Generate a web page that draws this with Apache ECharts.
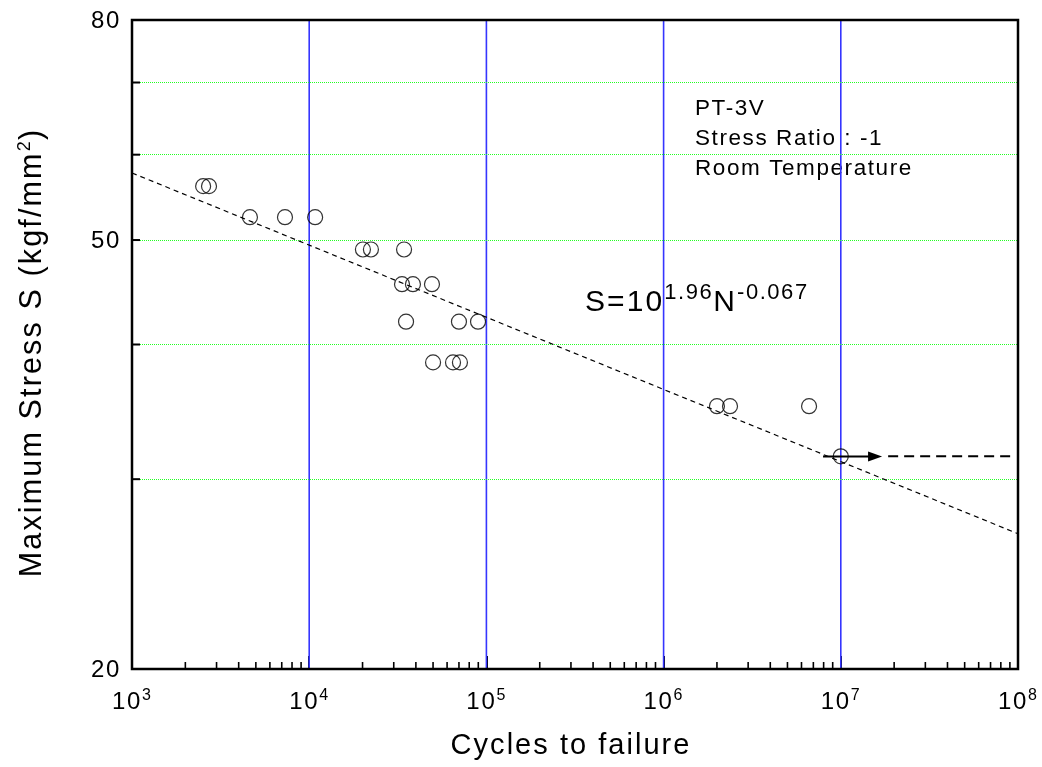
<!DOCTYPE html>
<html><head><meta charset="utf-8">
<script src="https://cdn.jsdelivr.net/npm/echarts@6/dist/echarts.min.js"></script>
<style>html,body{margin:0;padding:0;background:#fff}#c{width:1042px;height:767px}</style>
</head><body><div id="c"></div>
<script>
// ---------- data ----------
const cyclesToFailure = [2520, 2720, 4630, 7300, 10800, 20100, 22300, 34300, 33400, 38500, 49300, 35200, 70000, 89700, 50000, 64800, 70900, 2000000, 2370000, 6620000, 10000000];
const maxStress       = [56.1, 56.1, 52.5, 52.5, 52.5, 49.0, 49.0, 49.0, 45.5, 45.5, 45.5, 42.0, 42.0, 42.0, 38.5, 38.5, 38.5, 35.06, 35.06, 35.06, 31.5];
const fitCycles = [1e3, 1e8];
const fitStress = [57.7, 26.7];
const runoutStress = 31.5;
const runoutArrowCycles = [7.94e6, 1.71e7];
const runoutDashCycles = [1.85e7, 9.6e7];
const xDecades = [1e3, 1e4, 1e5, 1e6, 1e7, 1e8];
const xExponents = [3, 4, 5, 6, 7, 8];
const minorMultipliers = [2, 3, 4, 5, 6, 7, 8, 9];
const xGridCycles = [1e4, 1e5, 1e6, 1e7];
const yTickValues = [20, 30, 40, 50, 60, 70, 80];
const yTickLabels = [20, 50, 80];
const yGridStress = [30, 40, 50, 60, 70];
const annotationLines = ['PT-3V', 'Stress Ratio : -1', 'Room Temperature'];
const X_MIN = 1e3, X_MAX = 1e8, Y_MIN = 20, Y_MAX = 80;

// slight letter spacing, as in the reference rendering
const LS_EM = 0.07;
(function () {
  const P = CanvasRenderingContext2D.prototype;
  if (!('letterSpacing' in P)) return;
  const setLS = ctx => {
    const m = /(\d+(?:\.\d+)?)px/.exec(ctx.font);
    ctx.letterSpacing = m ? (parseFloat(m[1]) * LS_EM).toFixed(2) + 'px' : '0px';
  };
  ['fillText', 'strokeText', 'measureText'].forEach(fn => {
    const o = P[fn];
    P[fn] = function () { setLS(this); return o.apply(this, arguments); };
  });
})();

const FONT = '"Liberation Sans", Arial, Helvetica, sans-serif';
const crisp = v => Math.round(v - 0.5) + 0.5;
const minorTicks = [];
xDecades.slice(0, -1).forEach(d => minorMultipliers.forEach(m => minorTicks.push([d * m, Y_MIN])));

const chart = echarts.init(document.getElementById('c'), null, { renderer: 'canvas' });
const option = {
  animation: false,
  textStyle: { fontFamily: FONT, color: '#000' },
  grid: { left: 132, right: 24, top: 20, bottom: 98, show: true, borderColor: '#000', borderWidth: 2.5, backgroundColor: 'transparent', z: 10 },
  xAxis: {
    type: 'log', logBase: 10, min: X_MIN, max: X_MAX,
    axisLine: { show: false, onZero: false },
    axisTick: { show: true, inside: true, length: 13, lineStyle: { color: '#000', width: 2 } },
    splitLine: { show: false },
    axisLabel: {
      margin: 18,
      formatter: v => {
        const e = Math.round(Math.log10(v));
        return xExponents.indexOf(e) >= 0 ? '{b|10}{s|' + e + '}' : '';
      },
      rich: {
        b: { fontSize: 24, lineHeight: 30, fontFamily: FONT, color: '#000' },
        s: { fontSize: 16, lineHeight: 15, verticalAlign: 'top', fontFamily: FONT, color: '#000' }
      }
    },
    name: 'Cycles to failure', nameLocation: 'middle', nameGap: 62,
    nameTextStyle: { fontSize: 29, lineHeight: 30, color: '#000', fontFamily: FONT, padding: [0, 8, 0, 0] }
  },
  yAxis: {
    type: 'log', logBase: 10, min: Y_MIN, max: Y_MAX,
    axisLine: { show: false, onZero: false }, axisTick: { show: false }, axisLabel: { show: false }, splitLine: { show: false },
    name: 'Maximum Stress S (kgf/mm{s|2})', nameLocation: 'middle', nameGap: 81, nameRotate: 90,
    nameTextStyle: {
      fontSize: 30.5, lineHeight: 36, color: '#000', fontFamily: FONT, padding: [0, 16, 0, 0],
      rich: { s: { fontSize: 18, lineHeight: 14, verticalAlign: 'top', fontFamily: FONT, color: '#000' } }
    }
  },
  graphic: [
    { type: 'text', left: 695, top: 94, silent: true,
      style: { text: annotationLines.join('\n'), fontSize: 22.5, fontFamily: FONT, lineHeight: 30, fill: '#000' } },
    { type: 'text', left: 585, top: 281, silent: true,
      style: {
        text: '{b|S=10}{s|1.96}{b|N}{s|-0.067}',
        rich: {
          b: { fontSize: 30, lineHeight: 44, fontFamily: FONT, fill: '#000' },
          s: { fontSize: 22, lineHeight: 18, verticalAlign: 'top', fontFamily: FONT, fill: '#000' }
        }
      } }
  ],
  series: [
    // vertical blue grid lines
    { type: 'custom', coordinateSystem: 'cartesian2d', clip: false, silent: true, z: 1,
      data: xGridCycles.map(v => [v, Y_MIN]),
      renderItem: (p, api) => {
        const a = api.coord([api.value(0), Y_MIN]), b = api.coord([api.value(0), Y_MAX]);
        return { type: 'line', shape: { x1: a[0], y1: a[1], x2: a[0], y2: b[1] }, style: { stroke: '#3535ff', lineWidth: 1.6 } };
      } },
    // horizontal green dotted grid lines
    { type: 'custom', coordinateSystem: 'cartesian2d', clip: false, silent: true, z: 1,
      data: yGridStress.map(v => [X_MIN, v]),
      renderItem: (p, api) => {
        const a = api.coord([X_MIN, api.value(1)]), b = api.coord([X_MAX, api.value(1)]);
        const y = crisp(a[1]);
        return { type: 'line', shape: { x1: a[0], y1: y, x2: b[0], y2: y }, style: { stroke: '#22ff22', lineWidth: 1, lineDash: [1, 1] } };
      } },
    { type: 'line', data: fitCycles.map((c, i) => [c, fitStress[i]]), symbol: 'none', z: 2, silent: true,
      lineStyle: { color: '#000', width: 1.2, type: [5, 4] } },
    { type: 'line', data: runoutDashCycles.map(c => [c, runoutStress]), symbol: 'none', z: 2, silent: true,
      lineStyle: { color: '#000', width: 2, type: [10, 6] } },
    // run-out arrow
    { type: 'custom', coordinateSystem: 'cartesian2d', clip: false, silent: true, z: 3,
      data: [[runoutArrowCycles[0], runoutStress, runoutArrowCycles[1]]],
      renderItem: (p, api) => {
        const s = api.coord([api.value(0), api.value(1)]), t = api.coord([api.value(2), api.value(1)]);
        const y = crisp(s[1]);
        return { type: 'group', children: [
          { type: 'line', shape: { x1: s[0], y1: y, x2: t[0] - 12, y2: y }, style: { stroke: '#000', lineWidth: 2 } },
          { type: 'polygon', shape: { points: [[t[0] - 14, y - 5], [t[0], y], [t[0] - 14, y + 5]] }, style: { fill: '#000' } }
        ] };
      } },
    { type: 'scatter', data: cyclesToFailure.map((c, i) => [c, maxStress[i]]), symbol: 'circle', symbolSize: 15, z: 4, silent: true,
      itemStyle: { color: 'rgba(0,0,0,0)', borderColor: '#000', borderWidth: 1.2 } },
    { type: 'custom', coordinateSystem: 'cartesian2d', clip: false, silent: true, z: 5,
      data: yTickValues.map(v => [X_MIN, v]),
      renderItem: (p, api) => {
        const c = api.coord([api.value(0), api.value(1)]);
        return { type: 'line', shape: { x1: c[0], y1: c[1], x2: c[0] + 8, y2: c[1] }, style: { stroke: '#000', lineWidth: 2 } };
      } },
    { type: 'custom', coordinateSystem: 'cartesian2d', clip: false, silent: true, z: 5,
      data: minorTicks,
      renderItem: (p, api) => {
        const c = api.coord([api.value(0), api.value(1)]);
        return { type: 'line', shape: { x1: c[0], y1: c[1], x2: c[0], y2: c[1] - 7 }, style: { stroke: '#000', lineWidth: 1.6 } };
      } },
    { type: 'custom', coordinateSystem: 'cartesian2d', clip: false, silent: true, z: 5,
      data: yTickLabels.map(v => [X_MIN, v]),
      renderItem: (p, api) => {
        const c = api.coord([api.value(0), api.value(1)]);
        return { type: 'text', style: { text: String(api.value(1)), x: c[0] - 11, y: c[1] + 1, align: 'right', verticalAlign: 'middle',
          fontSize: 24, fontFamily: FONT, fill: '#000' } };
      } }
  ]
};
chart.setOption(option);
</script>
</body></html>
